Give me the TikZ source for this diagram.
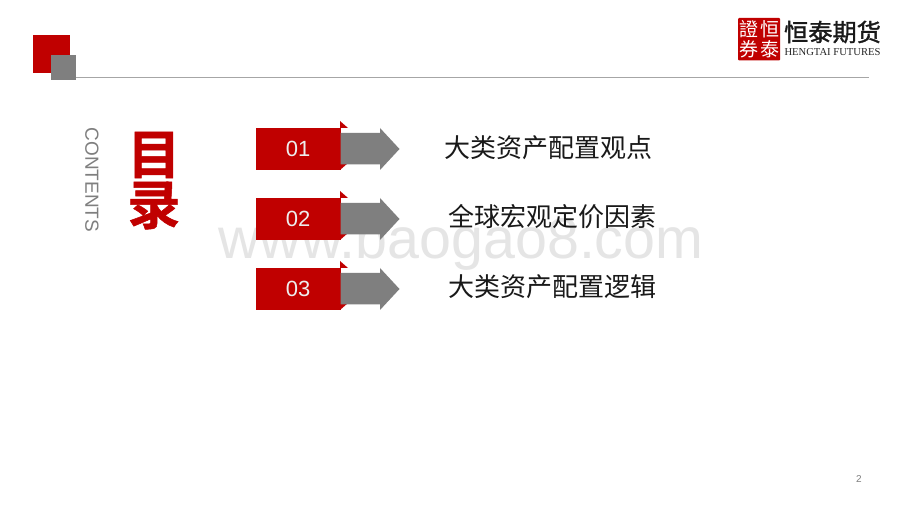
\documentclass[tikz,border=0pt]{standalone}
\usepackage{fontspec}
\setmainfont{Liberation Sans}
\newfontfamily\cjk{Noto Sans CJK SC}
\newfontfamily\cjkb{Noto Sans CJK SC Bold}
\newfontfamily\timesf{Liberation Serif}
\definecolor{hred}{RGB}{192,0,0}
\definecolor{hgray}{RGB}{127,127,127}
\tikzset{
  numbox/.style={fill=hred,draw=none,minimum width=85pt,minimum height=42pt,inner sep=0,text=white!93!black,font=\fontsize{22}{22}\selectfont},
  toctext/.style={inner sep=0,text=black!90,font=\cjk\fontsize{26}{26}\selectfont},
  arrowshape/.style={fill=hgray,draw=none},
  tick/.style={fill=hred,draw=none},
  sealchar/.style={inner sep=0,text=white,font=\cjk\fontsize{19}{19}\selectfont},
  titlechar/.style={inner sep=0,text=hred,font=\cjkb\fontsize{53}{53}\selectfont}
}
\begin{document}
\begin{tikzpicture}[x=1pt,y=-1pt]
\useasboundingbox (0,0) rectangle (920,518);
\fill[white] (0,0) rectangle (920,518);
% watermark
\node[inner sep=0,anchor=base,text=black!10,font=\fontsize{57.4}{58}\selectfont] (wm) at (461,259) {www.baogao8.com};
% header
\draw[color=black!35,line width=0.8pt] (76,77.5) -- (869,77.5);
\fill[hred] (32.5,35) rectangle (70,73);
\fill[hgray] (51,55.5) rectangle (76,80.5);
% logo
\fill[hred,rounded corners=1pt] (738,18) rectangle (780,60.5);
\node[sealchar] (seal1) at (769.5,29) {恒};
\node[sealchar] (seal2) at (748.5,29) {證};
\node[sealchar] (seal3) at (769.5,49.5) {泰};
\node[sealchar] (seal4) at (748.5,49.5) {券};
\node[inner sep=0,text=black!90,font=\cjk\fontsize{24.2}{25}\selectfont] (brand) at (832.5,32) {\special{pdf:literal 2 Tr 0.35 w}恒泰期货\special{pdf:literal 0 Tr}};
\node[inner sep=0,text=black!85,font=\timesf\fontsize{10.6}{11}\selectfont] (brandEn) at (832.5,52) {HENGTAI FUTURES};
% title
\node[inner sep=0,text=hgray,rotate=-90,font=\fontsize{19}{19}\selectfont] (contents) at (92,180) {CONTENTS};
\node[titlechar] (mu) at (154,155) {\special{pdf:literal 2 Tr 0.5 w}目\special{pdf:literal 0 Tr}};
\node[titlechar] (lu) at (154,205.5) {\special{pdf:literal 2 Tr 0.5 w}录\special{pdf:literal 0 Tr}};
% rows
\fill[tick] (340,121) -- (348,128) -- (340,128) -- cycle;
\fill[tick] (340,170) -- (348,163) -- (340,163) -- cycle;
\node[numbox,anchor=north west] (box1) at (255.5,128) {01};
\fill[arrowshape] (340.5,133) -- (380,133) -- (380,128) -- (399.5,149) -- (380,170) -- (380,164.5) -- (340.5,164.5) -- cycle;
\node[toctext] (t1) at (548,148) {大类资产配置观点};

\fill[tick] (340,191) -- (348,198) -- (340,198) -- cycle;
\fill[tick] (340,240) -- (348,233) -- (340,233) -- cycle;
\node[numbox,anchor=north west] (box2) at (255.5,198) {02};
\fill[arrowshape] (340.5,203) -- (380,203) -- (380,198) -- (399.5,219) -- (380,240) -- (380,234.5) -- (340.5,234.5) -- cycle;
\node[toctext] (t2) at (552,217) {全球宏观定价因素};

\fill[tick] (340,261) -- (348,268) -- (340,268) -- cycle;
\fill[tick] (340,310) -- (348,303) -- (340,303) -- cycle;
\node[numbox,anchor=north west] (box3) at (255.5,268) {03};
\fill[arrowshape] (340.5,273) -- (380,273) -- (380,268) -- (399.5,289) -- (380,310) -- (380,304.5) -- (340.5,304.5) -- cycle;
\node[toctext] (t3) at (552,287) {大类资产配置逻辑};
% page
\node[inner sep=0,text=hgray,font=\fontsize{10}{10}\selectfont] (page) at (859,479) {2};
\end{tikzpicture}
\end{document}
